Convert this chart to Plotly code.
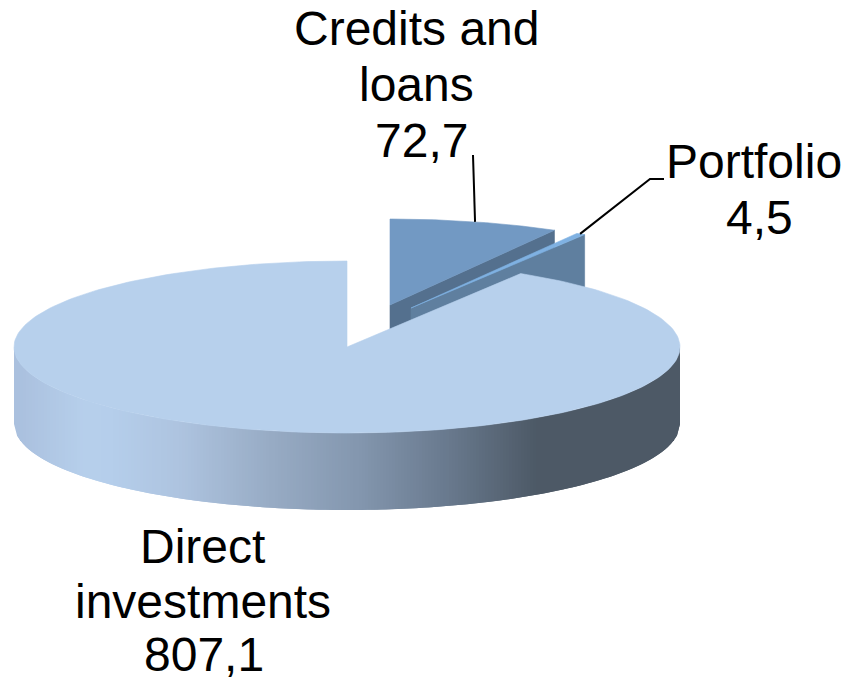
import numpy as np
import plotly.graph_objects as go

# --- data ---
categories = ["Credits and<br>loans", "Portfolio", "Direct<br>investments"]
values = [72.7, 4.5, 807.1]

# --- pie geometry and styling (pixels) ---
RX, RY, DEPTH = 333, 86, 77
APEX = {categories[0]: (390, 305), categories[1]: (411, 308), categories[2]: (347, 347)}
TOP_COL = {categories[0]: "#7299C3", categories[1]: "#7FB1E2", categories[2]: "#B7D0EC"}
FACE_COL = {categories[0]: "#54708E", categories[1]: "#5F7F9F"}
LABEL_X = {categories[0]: [416, 416, 421], categories[1]: [754, 759], categories[2]: [202, 203, 204]}
LABEL_Y = {categories[0]: [28, 84, 140], categories[1]: [161, 217], categories[2]: [546, 601, 654]}
LEADER_END = {categories[0]: [(473, 155)], categories[1]: [(650, 179), (664, 179)]}
GRAD = [(15, (170, 192, 222)), (85, (183, 208, 236)), (112, (181, 206, 235)), (178, (174, 196, 224)),
        (268, (152, 172, 197)), (357, (132, 151, 175)), (446, (105, 122, 142)), (536, (77, 89, 102)),
        (680, (77, 89, 102))]
FONT_SIZE = 48

total = sum(values)
spans, a = {}, 0.0
for c, v in zip(categories, values):
    spans[c] = (a, a + v / total * 2 * np.pi)
    a = spans[c][1]


def rim(c, t):
    ax, ay = APEX[c]
    return ax + RX * np.sin(t), ay - RY * np.cos(t)


def fmt(v):
    return str(v).replace(".", ",")


fig = go.Figure()


def poly(xs, ys, color, lw=0.6):
    fig.add_trace(go.Scatter(x=xs, y=ys, mode="lines", fill="toself", fillcolor=color,
                             line=dict(color=color, width=lw), hoverinfo="skip", showlegend=False))


def wedge(c):
    t0, t1 = spans[c]
    ts = np.linspace(t0, t1, 240)
    x, y = rim(c, ts)
    ax, ay = APEX[c]
    poly([ax, *x, ax], [ay, *y, ay], TOP_COL[c])


def cut_face(c):
    t1 = spans[c][1]
    ax, ay = APEX[c]
    ex, ey = rim(c, t1)
    poly([ax, ex, ex, ax, ax], [ay, ey, ey + DEPTH, ay + DEPTH, ay], FACE_COL[c])


# rear, exploded slices
c_credit, c_port, c_direct = categories
cut_face(c_credit)
wedge(c_credit)
cut_face(c_port)
wedge(c_port)

# front wall of the main slice: overlapping strips painted left to right, so no seams show
ax, ay = APEX[c_direct]
gx = [g[0] for g in GRAD]
xs = np.linspace(ax - RX, ax + RX, 223)
front = ay + RY * np.sqrt(np.clip(1 - ((xs - ax) / RX) ** 2, 0, 1))
for i in range(len(xs) - 1):
    j = min(i + 3, len(xs))
    sx, sy = xs[i:j], front[i:j]
    rgb = [np.interp(xs[i], gx, [g[1][k] for g in GRAD]) for k in range(3)]
    poly([*sx, *sx[::-1]], [*sy, *(sy[::-1] + DEPTH)], "rgb(%d,%d,%d)" % tuple(rgb), lw=0)

wedge(c_direct)

# leader lines, from the middle of each small slice's rim
for c in (c_credit, c_port):
    mx, my = rim(c, sum(spans[c]) / 2)
    pts = [(mx, my)] + LEADER_END[c]
    fig.add_trace(go.Scatter(x=[p[0] for p in pts], y=[p[1] for p in pts], mode="lines",
                             line=dict(color="#000000", width=2), hoverinfo="skip", showlegend=False))

# labels, one annotation per line to hold the tight line spacing
for c, v in zip(categories, values):
    lines = c.split("<br>") + [fmt(v)]
    for line, lx, ly in zip(lines, LABEL_X[c], LABEL_Y[c]):
        fig.add_annotation(x=lx, y=ly, xref="x", yref="y", text=line, showarrow=False,
                           font=dict(family="Liberation Sans", size=FONT_SIZE, color="#000000"))

fig.update_layout(width=847, height=682, margin=dict(l=0, r=0, t=0, b=0),
                  paper_bgcolor="white", plot_bgcolor="white", showlegend=False,
                  xaxis=dict(range=[0, 847], visible=False, fixedrange=True),
                  yaxis=dict(range=[682, 0], visible=False, fixedrange=True))
fig.write_html("out.html", config={"displayModeBar": False},
               post_script="document.body.style.margin='0';document.body.style.overflow='hidden';")
